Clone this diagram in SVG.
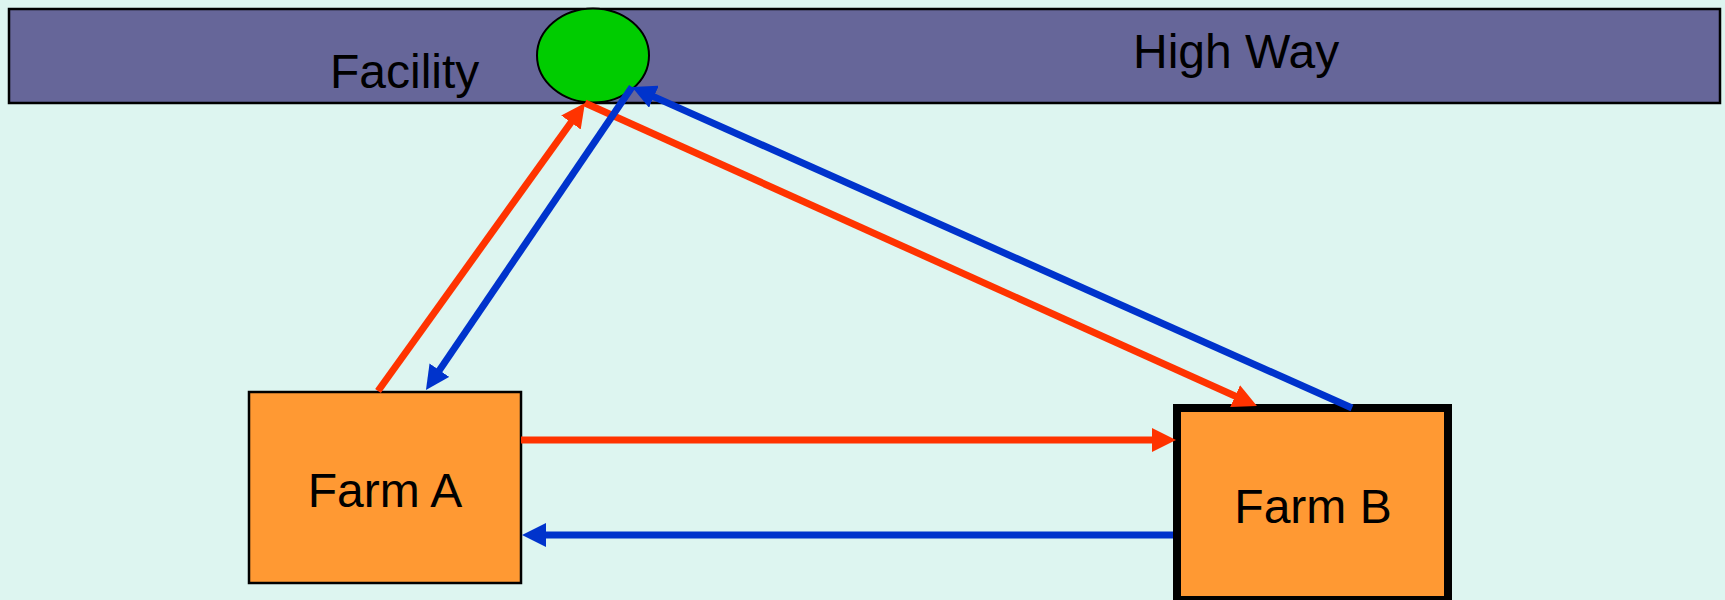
<svg xmlns="http://www.w3.org/2000/svg" width="1725" height="600" viewBox="0 0 1725 600">
  <style>
    .lbl { font-family: "Liberation Sans", Arial, sans-serif; font-size: 48px; fill: #000000; }
    .farm { fill: #ff9933; stroke: #000000; }
    .red { stroke: #ff3300; stroke-width: 7; fill: none; }
    .blue { stroke: #0033cc; stroke-width: 7; fill: none; }
  </style>
  <defs>
    <marker id="arrRed" markerUnits="userSpaceOnUse" markerWidth="24" markerHeight="24" viewBox="0 0 24 24" refX="9" refY="12" orient="auto">
      <path d="M0,0 L24,12 L0,24 z" fill="#ff3300"/>
    </marker>
    <marker id="arrBlue" markerUnits="userSpaceOnUse" markerWidth="24" markerHeight="24" viewBox="0 0 24 24" refX="9" refY="12" orient="auto">
      <path d="M0,0 L24,12 L0,24 z" fill="#0033cc"/>
    </marker>
  </defs>
  <rect x="0" y="0" width="1725" height="600" fill="#ddf5f0"/>

  <g id="highway">
    <rect x="9" y="9" width="1711" height="94" fill="#666699" stroke="#000000" stroke-width="2.5"/>
    <text class="lbl" x="1133" y="68">High Way</text>
    <text class="lbl" x="330" y="88">Facility</text>
  </g>

  <g id="facility">
    <ellipse cx="593" cy="55.5" rx="56" ry="47" fill="#00cc00" stroke="#000000" stroke-width="2"/>
  </g>

  <g id="farmA">
    <rect class="farm" x="249" y="392" width="272" height="191" stroke-width="2.5"/>
    <text class="lbl" x="385" y="507" text-anchor="middle">Farm A</text>
  </g>

  <g id="farmB">
    <rect class="farm" x="1177" y="408" width="271" height="192" stroke-width="8"/>
    <text class="lbl" x="1313" y="523" text-anchor="middle">Farm B</text>
  </g>

  <g id="connectors">
    <line class="red" x1="378" y1="391" x2="576.2" y2="115.2" marker-end="url(#arrRed)"/>
    <line class="red" x1="585" y1="103" x2="1243.3" y2="399.8" marker-end="url(#arrRed)"/>
    <line class="blue" x1="1352" y1="408" x2="645.7" y2="93.1" marker-end="url(#arrBlue)"/>
    <line class="blue" x1="632" y1="87" x2="434.4" y2="377.6" marker-end="url(#arrBlue)"/>
    <line class="red" x1="521" y1="440" x2="1161" y2="440" marker-end="url(#arrRed)"/>
    <line class="blue" x1="1173" y1="535" x2="537" y2="535" marker-end="url(#arrBlue)"/>
  </g>
</svg>
